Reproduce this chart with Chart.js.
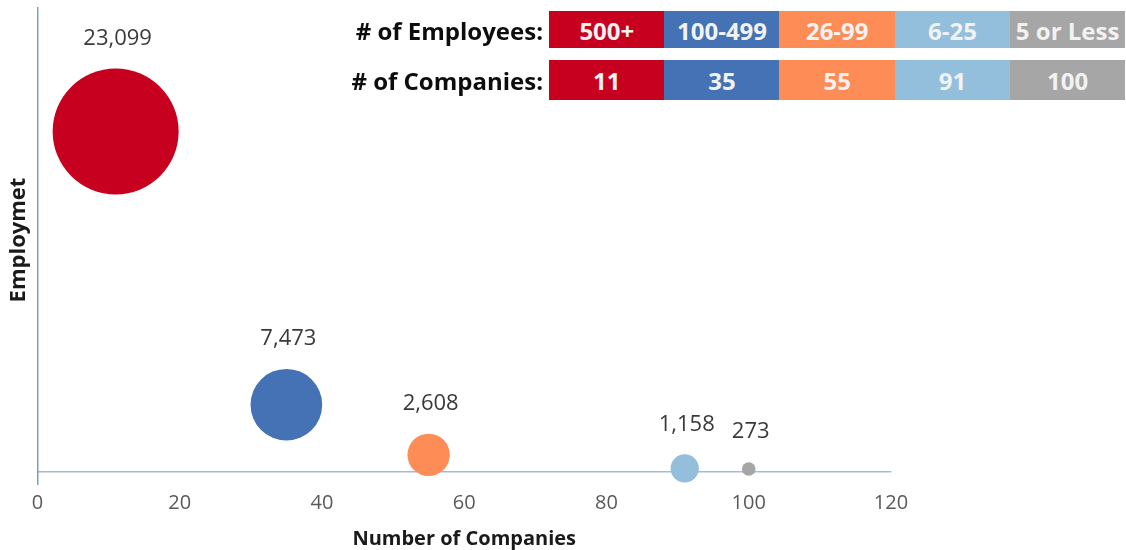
<!DOCTYPE html>
<html>
<head>
<meta charset="utf-8">
<script src="https://cdn.jsdelivr.net/npm/chart.js@4.4.1/dist/chart.umd.min.js"></script>
<style>
    html, body { margin: 0; padding: 0; background: #fff; }
    #wrap { position: relative; width: 1126px; height: 550px; }
    #chart { position: absolute; left: 0; top: 0; }
    .row-lbl {
        position: absolute; right: 583px; text-align: right; white-space: nowrap;
        font: bold 24px 'Open Sans', sans-serif; color: #0d0d0d;
    }
    .cell {
        position: absolute; text-align: center; white-space: nowrap;
        font: bold 24px 'Open Sans', sans-serif; color: #f2f2f2;
    }
</style>
</head>
<body>
<div id="wrap">
    <canvas id="chart" width="1126" height="550"></canvas>
    <div id="table"></div>
</div>
<script>
/* DATA dari gambar */
const sizeClasses = ['500+', '100-499', '26-99', '6-25', '5 or Less'];
const companies   = [11, 35, 55, 91, 100];
const employment  = [23099, 7473, 2608, 1158, 273];
// sumbu Y tanpa label: posisi vertikal ditaksir (skala 0-100)
const bubbleY     = [73.4, 14.5, 3.7, 0.76, 0.65];
const xTicks      = [0, 20, 40, 60, 80, 100, 120];

const colors = ['#c8001f', '#4472b4', '#fd8c56', '#93bfdd', '#a6a6a6'];

/* TABEL ATAS */
const table = document.getElementById('table');
const rows = [
    {label: '# of Employees:', vals: sizeClasses, top: 11, h: 37},
    {label: '# of Companies:', vals: companies,   top: 60, h: 40}
];
const cellLeft = 549, cellW = 115.2;
rows.forEach(r => {
    table.innerHTML += `<div class="row-lbl" style="top:${r.top}px;height:${r.h}px;line-height:${r.h + 2}px">${r.label}</div>`;
    r.vals.forEach((v, i) => {
        table.innerHTML += `<div class="cell" style="left:${cellLeft + i * cellW}px;width:${cellW + 0.5}px;top:${r.top}px;height:${r.h}px;line-height:${r.h + 2}px;background:${colors[i]}">${v}</div>`;
    });
});

/* LABEL ANGKA DI ATAS BUBBLE */
const valueLabels = {
    id: 'valueLabels',
    afterDatasetsDraw(chart) {
        const ctx = chart.ctx;
        const meta = chart.getDatasetMeta(0);
        ctx.save();
        ctx.font = '22px "Open Sans"';
        ctx.fillStyle = '#3a3a3a';
        ctx.textAlign = 'center';
        ctx.textBaseline = 'middle';
        meta.data.forEach((pt, i) => {
            const r = pt.options.radius;
            ctx.fillText(employment[i].toLocaleString('en-US'), pt.x + 2, pt.y - r - 30);
        });
        ctx.restore();
    }
};

/* CHART BUBBLE */
new Chart(document.getElementById('chart'), {
    type: 'bubble',
    data: {
        datasets: [{
            data: companies.map((c, i) => ({
                x: c,
                y: bubbleY[i],
                r: 63 * Math.sqrt(employment[i] / employment[0])
            })),
            backgroundColor: colors,
            borderColor: colors,
            borderWidth: 0,
            clip: false
        }]
    },
    options: {
        responsive: false, animation: false, devicePixelRatio: 1,
        events: [],
        layout: {autoPadding: false, padding: {left: 6, right: 235, top: 8, bottom: -1}},
        plugins: {legend: {display: false}, tooltip: {enabled: false}},
        scales: {
            x: {
                type: 'linear',
                min: xTicks[0], max: xTicks[xTicks.length - 1],
                afterBuildTicks: s => { s.ticks = xTicks.map(v => ({value: v})); },
                ticks: {color: '#595959', font: {family: 'Open Sans', size: 20}, padding: 6},
                grid: {
                    drawOnChartArea: false, drawTicks: true, tickLength: 13, lineWidth: 1.5,
                    color: c => (c.tick && c.tick.value === 0) ? '#7d9bcc' : 'rgba(0,0,0,0)'
                },
                border: {color: '#a6b9d6', width: 1.5},
                title: {
                    display: true, text: 'Number of Companies', color: '#1a1a1a',
                    font: {family: 'Open Sans', size: 20, weight: 'bold'},
                    padding: {top: 6, bottom: 0}
                }
            },
            y: {
                min: 0, max: 100,
                ticks: {display: false},
                grid: {drawOnChartArea: false, drawTicks: false},
                border: {color: '#7d9bcc', width: 1.5},
                title: {
                    display: true, text: 'Employmet', color: '#1a1a1a',
                    font: {family: 'Open Sans', size: 22, weight: 'bold'},
                    padding: {top: 0, bottom: 5}
                }
            }
        }
    },
    plugins: [valueLabels]
});
</script>
</body>
</html>
